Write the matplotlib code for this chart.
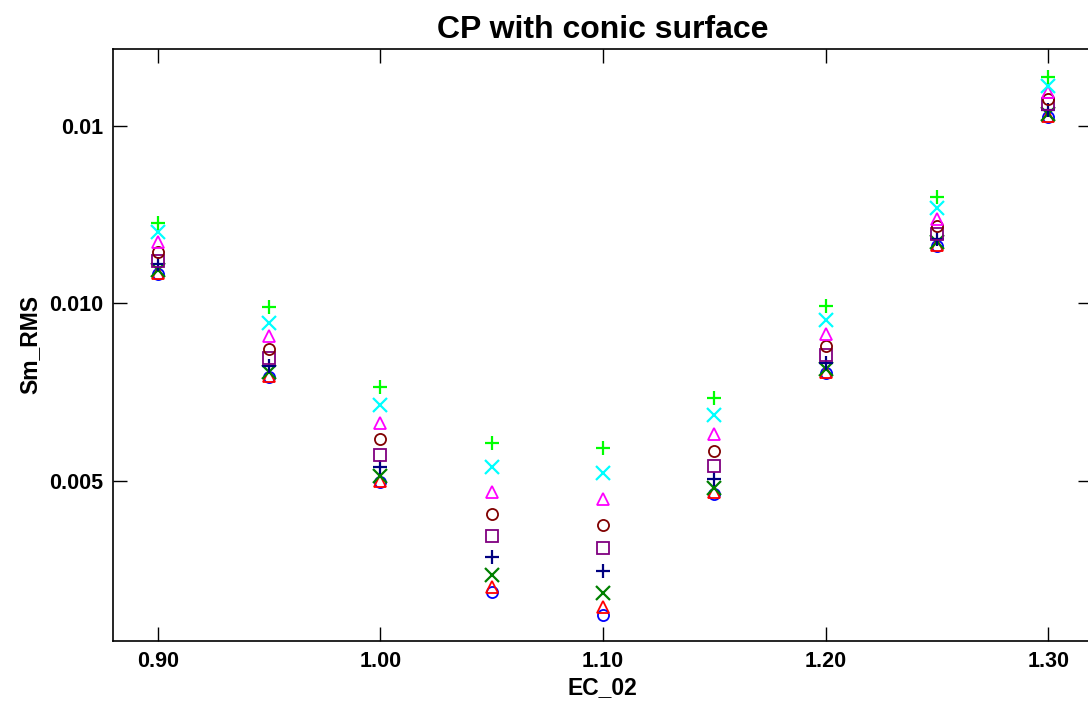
import matplotlib
matplotlib.use('Agg')
import matplotlib.pyplot as plt

plt.rcParams['font.family'] = ['Liberation Sans', 'DejaVu Sans']
plt.rcParams['font.weight'] = 'bold'

ec = [0.90, 0.95, 1.00, 1.05, 1.10, 1.15, 1.20, 1.25, 1.30]

# series, top to bottom within each cluster
s_lime = [0.01228, 0.00989, 0.00766, 0.00606, 0.00592, 0.00735, 0.00992, 0.01301, 0.01637]
s_cyan = [0.01200, 0.00946, 0.00713, 0.00538, 0.00521, 0.00685, 0.00952, 0.01268, 0.01614]
s_magenta = [0.01172, 0.00907, 0.00662, 0.00470, 0.00448, 0.00631, 0.00913, 0.01237, 0.01597]
s_darkred = [0.01144, 0.00873, 0.00617, 0.00408, 0.00375, 0.00583, 0.00879, 0.01217, 0.01577]
s_purple = [0.01121, 0.00845, 0.00572, 0.00344, 0.00310, 0.00541, 0.00854, 0.01197, 0.01563]
s_navy = [0.01110, 0.00825, 0.00538, 0.00285, 0.00245, 0.00504, 0.00831, 0.01183, 0.01544]
s_dkgreen = [0.01093, 0.00806, 0.00515, 0.00234, 0.00183, 0.00479, 0.00814, 0.01172, 0.01535]
s_red = [0.01085, 0.00797, 0.00501, 0.00200, 0.00144, 0.00468, 0.00806, 0.01166, 0.01527]
s_blue = [0.01082, 0.00794, 0.00496, 0.00186, 0.00121, 0.00462, 0.00803, 0.01163, 0.01524]

series = [
    (s_blue, 'o', '#0000ff'),
    (s_red, '^', '#ff0000'),
    (s_dkgreen, 'x', '#008000'),
    (s_navy, '+', '#000080'),
    (s_purple, 's', '#800080'),
    (s_darkred, 'o', '#800000'),
    (s_magenta, '^', '#ff00ff'),
    (s_cyan, 'x', '#00ffff'),
    (s_lime, '+', '#00ff00'),
]

xticks = [0.90, 1.00, 1.10, 1.20, 1.30]
xticklabels = ['0.90', '1.00', '1.10', '1.20', '1.30']
yticks = [0.005, 0.010, 0.015]
yticklabels = ['0.005', '0.010', '0.01']

fig = plt.figure(figsize=(10.88, 7.07), dpi=100)
ax = fig.add_axes([0.104, 0.0934, 0.9, 0.8373])

for vals, m, c in series:
    if m in ('+', 'x'):
        ax.plot(ec, vals, linestyle='none', marker=m, color=c,
                markersize=10, markeredgewidth=1.6)
    else:
        ax.plot(ec, vals, linestyle='none', marker=m, markerfacecolor='none',
                markeredgecolor=c, markersize=8, markeredgewidth=1.3)

ax.set_xlim(0.88, 1.3197)
ax.set_ylim(0.00049, 0.01717)
ax.set_xticks(xticks)
ax.set_xticklabels(xticklabels)
ax.set_yticks(yticks)
ax.set_yticklabels(yticklabels)
ax.tick_params(direction='in', length=10, width=1, top=True, right=True,
               labelsize=15.5, pad=7)
for sp in ax.spines.values():
    sp.set_linewidth(1.2)

ax.set_xlabel('EC_02', fontsize=16.5, fontweight='bold', labelpad=3)
ax.set_ylabel('Sm_RMS', fontsize=16.5, fontweight='bold', labelpad=6)
ax.set_title('CP with conic surface', fontsize=23, fontweight='bold', pad=8)

fig.savefig('out.png', dpi=100)
